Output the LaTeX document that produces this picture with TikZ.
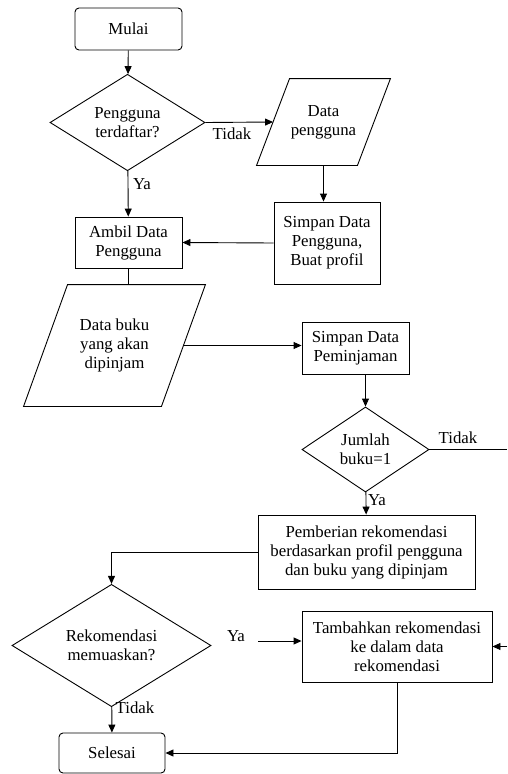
\documentclass[tikz,border=0pt]{standalone}
\usepackage{fontspec}
\setmainfont{Liberation Serif}
\usetikzlibrary{shapes.geometric,arrows.meta}

\begin{document}
\begin{tikzpicture}[x=1pt,y=-1pt,
    font=\fontsize{16.8}{19}\selectfont,
    line width=0.9pt,
    >={Triangle[length=8pt,width=7pt]},
    terminal/.style={draw,rectangle,rounded corners=4pt,align=center,inner sep=0pt},
    proses/.style={draw,rectangle,align=center,inner sep=0pt},
    keputusan/.style={draw,diamond,align=center,inner sep=0pt},
    masukan/.style={rectangle,align=center,inner sep=0pt},
    ket/.style={inner sep=0pt}]
  \useasboundingbox (0,0) rectangle (507,774);

  % Draw the start and the first check
  \node[terminal,minimum width=107pt,minimum height=42pt] (mulai) at (128.5,29) {Mulai};
  \node[keputusan,minimum width=155pt,minimum height=85pt] (cek) at (127.5,122.5) {Pengguna\\terdaftar?};
  \node[masukan,minimum width=133pt,minimum height=86pt] (datapengguna) at (323.5,122) {Data\\pengguna};
  \draw (datapengguna.south west) -- ([xshift=-33pt]datapengguna.south east)
    -- (datapengguna.north east) -- ([xshift=33pt]datapengguna.north west) -- cycle;
  \node[proses,minimum width=106pt,minimum height=82pt] (simpanpengguna) at (327,243) {Simpan Data\\Pengguna,\\Buat profil};
  \node[proses,minimum width=107pt,minimum height=51pt] (ambil) at (128.5,242.5) {Ambil Data\\Pengguna};

  % Draw the borrowing part
  \node[masukan,minimum width=181pt,minimum height=121pt] (databuku) at (114.5,345.5) {Data buku\\yang akan\\dipinjam};
  \draw (databuku.south west) -- ([xshift=-44pt]databuku.south east)
    -- (databuku.north east) -- ([xshift=44pt]databuku.north west) -- cycle;
  \node[proses,minimum width=107pt,minimum height=52pt] (simpanpinjam) at (355.5,348) {Simpan Data\\Peminjaman};
  \node[keputusan,minimum width=127pt,minimum height=85pt] (jumlah) at (365.5,449.5) {Jumlah\\buku=1};
  \node[proses,minimum width=217pt,minimum height=74pt] (pemberian) at (366.5,552) {Pemberian rekomendasi\\berdasarkan profil pengguna\\dan buku yang dipinjam};

  % Draw the end part
  \node[keputusan,minimum width=199pt,minimum height=85pt] (puas) at (111.5,645.5) {Rekomendasi\\memuaskan?};
  \node[proses,minimum width=190pt,minimum height=71pt] (tambah) at (397,646.5) {Tambahkan rekomendasi\\ke dalam data\\rekomendasi};
  \node[terminal,minimum width=106pt,minimum height=40pt] (selesai) at (112,753) {Selesai};

  \coordinate (kanan1) at (507,449.5);
  \coordinate (kanan2) at (507,646.5);
  \coordinate (yaawal) at (258,641);

  % Draw the labels
  \node[ket] (tidak1) at (232,134) {Tidak};
  \node[ket] (ya1) at (142,184) {Ya};
  \node[ket] (tidak2) at (458,438) {Tidak};
  \node[ket] (ya2) at (377,500) {Ya};
  \node[ket] (ya3) at (236,636) {Ya};
  \node[ket] (tidak3) at (135,708) {Tidak};

  % Draw the connectors
  \draw[->] (mulai) -- (cek);
  \draw[->] (cek.east) -- ([xshift=16.5pt]datapengguna.west);
  \draw[->] (datapengguna.south) -- (datapengguna.south |- simpanpengguna.north);
  \draw[->] (simpanpengguna.west) -- (ambil.east);
  \draw[->] (cek) -- (ambil);
  \draw (ambil.south) -- (ambil.south |- databuku.north);
  \draw[->] ([xshift=-22pt]databuku.east) -- (databuku.east -| simpanpinjam.west);
  \draw[->] (jumlah.north |- simpanpinjam.south) -- (jumlah.north);
  \draw (jumlah.east) -- (kanan1);
  \draw[->] (jumlah) -- (pemberian);
  \draw[->] (pemberian.west) -| (puas.north);
  \draw[->] (yaawal) -- (yaawal -| tambah.west);
  \draw[->] (kanan2) -- (tambah.east);
  \draw[->] (tambah.south) |- (selesai.east);
  \draw[->] (puas) -- (selesai);
\end{tikzpicture}
\end{document}
